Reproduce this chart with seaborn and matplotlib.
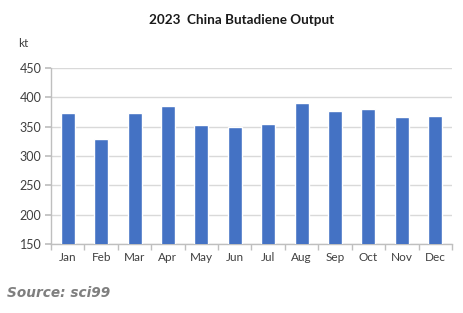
import matplotlib
matplotlib.use("Agg")
import matplotlib.pyplot as plt
import seaborn as sns
import pandas as pd
import numpy as np

months = ["Jan", "Feb", "Mar", "Apr", "May", "Jun", "Jul", "Aug", "Sep", "Oct", "Nov", "Dec"]
output_kt = [373, 329, 373, 385, 353, 350, 355, 390, 377, 380, 366, 368]
y_ticks = [150, 200, 250, 300, 350, 400, 450]

sns.set_theme(style="white")
plt.rcParams['font.family'] = ['Lato', 'DejaVu Sans']

df = pd.DataFrame({"month": months, "kt": output_kt})

fig = plt.figure(figsize=(4.64, 3.13), dpi=100)
ax = fig.add_axes([0.110, 0.220, 0.864, 0.563])

sns.barplot(data=df, x="month", y="kt", color="#4472c4", width=0.42,
            saturation=1, ax=ax, zorder=3)

ax.set_ylim(150, 450)
ax.set_yticks(y_ticks)
ax.set_xlim(-0.5, len(months) - 0.5)
ax.yaxis.grid(True, color="#d9d9d9", linewidth=1, zorder=0)
ax.set_axisbelow(True)
ax.set_xlabel("")
ax.set_ylabel("")

for s in ["top", "right"]:
    ax.spines[s].set_visible(False)
for s in ["left", "bottom"]:
    ax.spines[s].set_color("#bfbfbf")
    ax.spines[s].set_linewidth(1)

ax.tick_params(axis="y", which="major", direction="out", length=4, color="#bfbfbf",
               labelsize=9, labelcolor="#404040", pad=3, left=True)
ax.tick_params(axis="x", which="major", length=0, labelsize=8.5, labelcolor="#404040", pad=6)
ax.set_xticks(np.arange(-0.5, len(months), 1.0), minor=True)
ax.tick_params(axis="x", which="minor", direction="out", length=4, color="#bfbfbf", bottom=True)

fig.text(0.52, 0.935, "2023  China Butadiene Output", ha="center", va="center",
         fontsize=9.7, fontweight="bold", color="#1a1a1a")
fig.text(0.040, 0.862, "kt", ha="left", va="center", fontsize=8.5, color="#404040")
fig.text(0.015, 0.063, "Source: sci99", ha="left", va="center", fontsize=9.8,
         fontweight="bold", fontstyle="italic", color="#7f7f7f",
         family=["DejaVu Sans"])

fig.savefig("out.png", dpi=100)
